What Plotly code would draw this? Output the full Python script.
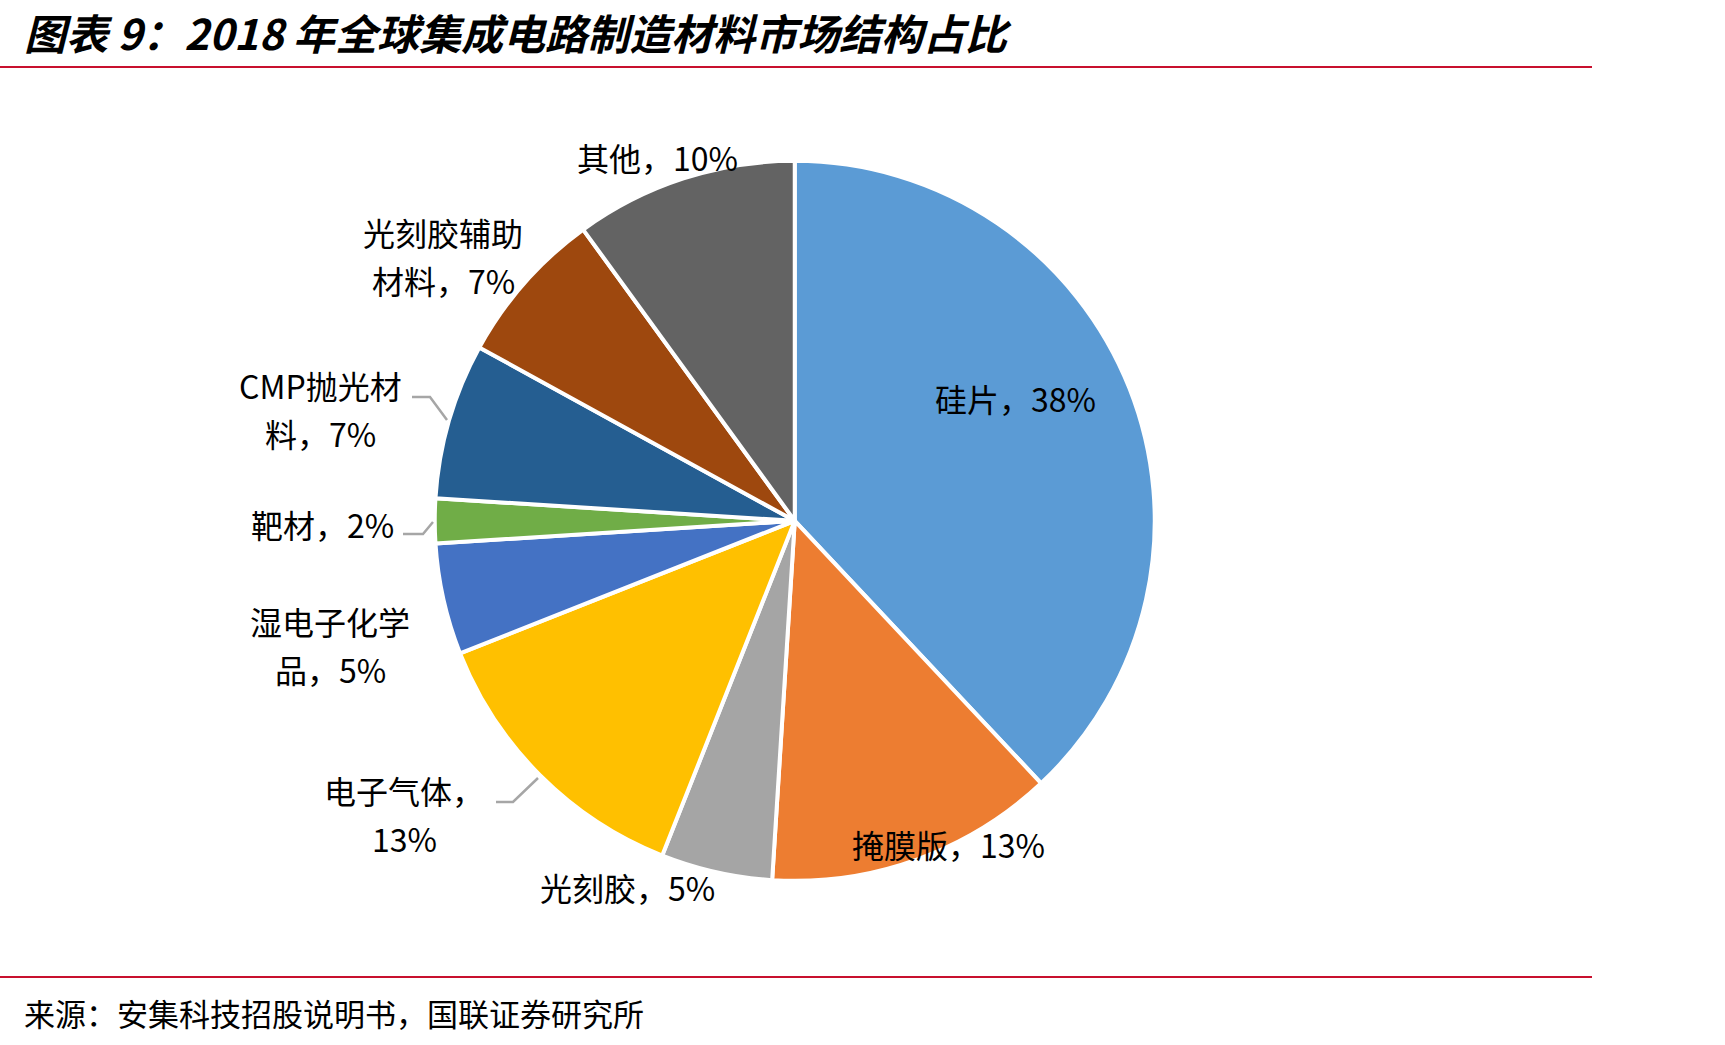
import plotly.graph_objects as go

W, H = 1725, 1045

categories = ["硅片", "掩膜版", "光刻胶", "电子气体", "湿电子化学品", "靶材", "CMP抛光材料", "光刻胶辅助材料", "其他"]
shares = [38, 13, 5, 13, 5, 2, 7, 7, 10]
colors = ["#5B9BD5", "#ED7D31", "#A5A5A5", "#FFC000", "#4472C4", "#70AD47", "#255E91", "#9E480E", "#636363"]

title_text = "<b><i>图表 9：2018 年全球集成电路制造材料市场结构占比</i></b>"
source_text = "来源：安集科技招股说明书，国联证券研究所"

# label line texts (per category) and their pixel layout
label_lines = {
    "硅片": ["硅片，38%"],
    "掩膜版": ["掩膜版，13%"],
    "光刻胶": ["光刻胶，5%"],
    "电子气体": ["电子气体，", "13%"],
    "湿电子化学品": ["湿电子化学", "品，5%"],
    "靶材": ["靶材，2%"],
    "CMP抛光材料": ["CMP抛光材", "料，7%"],
    "光刻胶辅助材料": ["光刻胶辅助", "材料，7%"],
    "其他": ["其他，10%"],
}
label_pos = {
    "硅片": (1015, 398),
    "掩膜版": (948, 844),
    "光刻胶": (627, 887),
    "电子气体": (404, 790),
    "湿电子化学品": (330, 621),
    "靶材": (322, 524),
    "CMP抛光材料": (320, 385),
    "光刻胶辅助材料": (443, 232),
    "其他": (657, 157),
}
line_gap = 48
leaders = [
    [(412, 397), (430, 397), (447, 420)],
    [(403, 534), (423, 534), (433, 522)],
    [(496, 802), (513, 802), (538, 778)],
]

def px(x):
    return x / W

def py(y):
    return 1 - y / H

cx, cy, r = 794.75, 520.85, 360

fig = go.Figure(go.Pie(
    labels=categories,
    values=shares,
    sort=False,
    direction="clockwise",
    rotation=0,
    marker=dict(colors=colors, line=dict(color="white", width=4)),
    textinfo="none",
    hoverinfo="label+percent",
    showlegend=False,
    domain=dict(x=[px(cx - r), px(cx + r)], y=[py(cy + r), py(cy - r)]),
))

lab_font = dict(family="Noto Sans CJK SC", size=32, color="#000000")
annotations = []
for cat in categories:
    lines = label_lines[cat]
    x0, y0 = label_pos[cat]
    for i, t in enumerate(lines):
        annotations.append(dict(
            x=px(x0), y=py(y0 + i * line_gap), xref="paper", yref="paper",
            text=t, showarrow=False, xanchor="center", yanchor="middle",
            font=lab_font))

annotations.append(dict(
    x=px(22), y=py(31), xref="paper", yref="paper", text=title_text,
    showarrow=False, xanchor="left", yanchor="middle",
    font=dict(family="Noto Sans CJK SC", size=42, color="#000000")))
annotations.append(dict(
    x=px(22), y=py(1012), xref="paper", yref="paper", text=source_text,
    showarrow=False, xanchor="left", yanchor="middle",
    font=dict(family="Noto Sans CJK SC", size=31, color="#000000")))

shapes = []
for yl in (67, 977):
    shapes.append(dict(type="line", xref="paper", yref="paper",
                       x0=0, x1=px(1592), y0=py(yl), y1=py(yl),
                       line=dict(color="#C8102E", width=2)))
for pts in leaders:
    path = "M " + " L ".join(f"{px(a)},{py(b)}" for a, b in pts)
    shapes.append(dict(type="path", xref="paper", yref="paper", path=path,
                       line=dict(color="#A6A6A6", width=2.5)))

fig.update_layout(
    width=W, height=H,
    margin=dict(l=0, r=0, t=0, b=0),
    paper_bgcolor="white", plot_bgcolor="white",
    annotations=annotations, shapes=shapes,
)

fig.write_html("out.html")
